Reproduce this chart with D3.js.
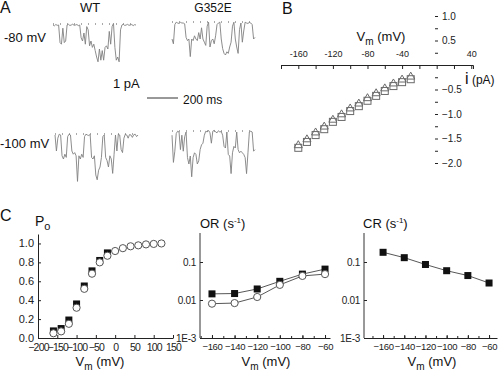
<!doctype html>
<html>
  <head>
    <meta charset="utf-8"/>
    <title>Single channel figure</title>
    <style>
      body, html {
        margin: 0;
        padding: 0;
        background: #fff;
      }
      svg {
        font-family: "Liberation Sans", Arial, sans-serif;
        display: block;
      }
      .tick line, .domain { stroke: #222; }
      .tick text { fill: #222; }
    </style>
    <script src="https://d3js.org/d3.v7.min.js"></script>
  </head>
  <body>
    <svg id="fig" width="500" height="372"></svg>
    <script>
      // ---- panel A: single channel traces (pA, evenly sampled) ----
      var traceWT80 = [0,-0.05,0.03,-0.02,0,-1.1,-1.2,-0.2,-1.1,-1.0,
        0,0.04,-0.03,0,0.05,-0.02,0,0.03,-0.04,0,
        -0.8,-1.0,-0.5,-1.2,-0.1,-0.3,-1.3,-1.0,-1.4,-1.2,
        -1.6,-2.0,-2.3,-1.5,-2.2,-1.6,-2.2,-1.4,-1.3,-1.5,
        -0.4,-1.2,-0.1,0.1,-1.4,-2.2,-2.0,-2.3,-0.3,0,
        0.05,-0.03,0,0.04,-0.02,0,0.03,-0.04,0.02,0];
      var traceG80 = [-1.0,-1.3,-0.1,0.05,0,-0.03,0.04,0,0,-0.05,
        -0.9,-1.1,-1.0,-2.1,-1.0,-1.1,-0.8,-1.0,-1.1,-0.6,
        -1.0,-0.3,-1.0,-1.2,-1.4,-0.2,0.05,-1.5,-1.1,-1.0,
        -1.3,-0.8,-0.1,0,0.05,-1.0,-1.6,-1.9,-2.0,-1.8,
        -1.9,-1.5,-1.2,-0.2,0.05,-1.0,-1.5,-1.9,-0.4,0,
        -1.2,-0.5,0.05,0,-0.03,0.04,0,-0.1,-1.0,-0.9];
      var traceWT100 = [0,-1.0,-0.2,0.05,0,-1.3,-1.5,-1.2,-1.4,-0.1,
        0.05,0,-1.0,-1.2,-1.1,-1.3,-2.9,-1.3,-1.5,-1.2,
        -1.4,-0.1,0.05,0,-0.03,0.03,-1.4,-1.5,-1.3,-2.5,
        -2.8,-2.2,-2.0,-1.4,-0.1,0,-1.4,-1.6,-2.0,-1.3,
        -1.5,-2.4,-1.2,0,-1.0,0.05,0,-0.9,-1.1,-0.2,
        0.05,0,-0.2,0.03,0,-0.15,0.02,0.05,-0.1,0];
      var traceG100 = [-0.2,-1.9,-1.2,-0.1,0.05,0,-1.1,-0.2,-1.2,-0.3,
        0,-1.6,-2.0,-1.5,-2.8,-1.6,-1.3,-1.4,-2.0,-1.8,
        -1.1,-0.8,-0.7,-0.2,0.05,0,0.1,-0.05,-0.7,0.05,
        0.1,0,-0.05,0.08,0,0.03,-0.2,-0.9,-1.0,0,
        -1.4,-1.5,-2.6,-1.3,-0.9,-1.0,0,-1.1,-1.3,-1.2,
        -1.3,-1.4,-1.6,-2.6,-1.3,0,0.05,0,-1.2,-1.1];

      // ---- panel B: unitary current-voltage ----
      var ivVoltage = [-160,-150,-140,-130,-120,-110,-100,-90,-80,-70,-60,-50,-40,-30];
      var ivWT = [-1.69,-1.57,-1.43,-1.31,-1.16,-1.06,-0.94,-0.84,-0.73,-0.63,-0.53,-0.43,-0.35,-0.29];
      var ivG352E = [-1.64,-1.52,-1.38,-1.26,-1.12,-1.01,-0.89,-0.79,-0.68,-0.58,-0.48,-0.38,-0.30,-0.24];
      var ivXTicks = [-160,-120,-80,-40,40];
      var ivYTicks = [1.0,0.5,-0.5,-1.0,-1.5,-2.0];

      // ---- panel C: Po, opening and closing rates ----
      var poVoltageWT = [-160,-140,-120,-100,-80,-60,-40,-20];
      var poWT = [0.075,0.10,0.19,0.36,0.55,0.71,0.82,0.90];
      var poVoltageG = [-160,-140,-120,-100,-80,-60,-40,-20,0,20,40,60,80,100,120];
      var poG352E = [0.05,0.07,0.15,0.32,0.52,0.68,0.80,0.87,0.92,0.95,0.97,0.98,0.99,0.995,1.0];
      var poXTicks = [-200,-150,-100,-50,0,50,100,150];
      var poYTicks = [0,0.2,0.4,0.6,0.8,1.0];

      var rateVoltage = [-160,-140,-120,-100,-80,-60];
      var orWT = [0.0145,0.0148,0.0195,0.031,0.048,0.065];
      var orG352E = [0.008,0.0083,0.012,0.025,0.043,0.048];
      var crWT = [0.18,0.13,0.086,0.059,0.044,0.028];
      var logTicks = [0.001,0.01,0.1];

      var svg = d3.select("#fig");
      var grey = "#6a6a6a";

      function label(x, y, txt, size, anchor) {
        return svg.append("text")
          .attr("x", x).attr("y", y)
          .attr("font-size", size)
          .attr("text-anchor", anchor || "start")
          .attr("fill", "#111")
          .text(txt);
      }

      function vmLabel(cx, y) {
        var t = svg.append("text").attr("x", cx).attr("y", y)
          .attr("font-size", 13).attr("text-anchor", "middle").attr("fill", "#111");
        t.append("tspan").text("V");
        t.append("tspan").attr("font-size", 10).attr("dy", 4).text("m");
        t.append("tspan").attr("dy", -4).text(" (mV)");
        return t;
      }

      // panel letters
      label(0, 13, "A", 16);
      label(282, 14, "B", 16);
      label(0, 221, "C", 16);

      // ---- A ----
      label(90, 12, "WT", 13, "middle");
      label(213, 12, "G352E", 12, "middle");
      label(4, 42, "-80 mV", 13);
      label(0, 148, "-100 mV", 13);

      var traces = [
        {data: traceWT80, x0: 53, x1: 136, base: 25},
        {data: traceG80, x0: 172, x1: 255, base: 23},
        {data: traceWT100, x0: 55, x1: 138, base: 135},
        {data: traceG100, x0: 172, x1: 255, base: 132}
      ];

      traces.forEach(function(t) {
        var x = d3.scaleLinear().domain([0, t.data.length - 1]).range([t.x0, t.x1]);
        var y = d3.scaleLinear().domain([0, -3]).range([t.base, t.base + 48]);
        // dotted closed level
        svg.append("line")
          .attr("x1", t.x0).attr("x2", t.x1)
          .attr("y1", t.base - 1).attr("y2", t.base - 1)
          .attr("stroke", "#555").attr("stroke-width", 1)
          .attr("stroke-dasharray", "1,6");
        svg.append("path")
          .datum(t.data)
          .attr("fill", "none")
          .attr("stroke", "#808080")
          .attr("stroke-width", 0.9)
          .attr("d", d3.line()
            .x(function(d, i) { return x(i); })
            .y(function(d) { return y(d); }));
      });

      // scale bar
      label(113, 88, "1 pA", 13);
      svg.append("line").attr("x1", 147).attr("x2", 178).attr("y1", 98).attr("y2", 98)
        .attr("stroke", "#333").attr("stroke-width", 1);
      label(183, 104, "200 ms", 12);

      // ---- B ----
      var xB = d3.scaleLinear().domain([-180, 42]).range([281, 473]);
      var yB = d3.scaleLinear().domain([-2, 1]).range([163, 16]);

      var gxB = svg.append("g").attr("transform", "translate(0," + yB(0) + ")")
        .call(d3.axisBottom(xB).tickValues(d3.range(-180, 41, 20)).tickSize(4)
          .tickFormat(function(d) { return ivXTicks.indexOf(d) >= 0 ? d : ""; }));
      gxB.selectAll("text").attr("y", -14).attr("font-size", 9).attr("fill", "#333");
      gxB.select(".domain").attr("stroke", "#333");

      var gyB = svg.append("g").attr("transform", "translate(435,0)")
        .call(d3.axisRight(yB).tickValues(d3.range(-2, 1.01, 0.25)).tickSize(3).tickPadding(4)
          .tickFormat(function(d) {
            var hit = ivYTicks.filter(function(v) { return Math.abs(v - d) < 1e-6; });
            return hit.length ? d3.format(".1f")(d) : "";
          }));
      gyB.select(".domain").remove();
      gyB.selectAll("text").attr("font-size", 10).attr("fill", "#333");
      gyB.selectAll("line").attr("stroke", "#555");

      vmLabel(381, 41);
      var il = svg.append("text").attr("x", 465).attr("y", 84).attr("fill", "#111");
      il.append("tspan").attr("font-size", 16).text("i");
      il.append("tspan").attr("font-size", 12).text(" (pA)");

      svg.append("g").selectAll("rect").data(ivWT).enter().append("rect")
        .attr("x", function(d, i) { return xB(ivVoltage[i]) - 3.5; })
        .attr("y", function(d) { return yB(d) - 3.5; })
        .attr("width", 7).attr("height", 7)
        .attr("fill", "none").attr("stroke", grey).attr("stroke-width", 1);
      svg.append("g").selectAll("path").data(ivG352E).enter().append("path")
        .attr("transform", function(d, i) { return "translate(" + xB(ivVoltage[i]) + "," + yB(d) + ")"; })
        .attr("d", d3.symbol().type(d3.symbolTriangle).size(28))
        .attr("fill", "none").attr("stroke", grey).attr("stroke-width", 1);

      // ---- C helpers ----
      function squares(x, y, xs, ys) {
        svg.append("g").selectAll("rect").data(ys).enter().append("rect")
          .attr("x", function(d, i) { return x(xs[i]) - 3.5; })
          .attr("y", function(d) { return y(d) - 3.5; })
          .attr("width", 7).attr("height", 7).attr("fill", "#111");
      }
      function circles(x, y, xs, ys) {
        svg.append("g").selectAll("circle").data(ys).enter().append("circle")
          .attr("cx", function(d, i) { return x(xs[i]); })
          .attr("cy", function(d) { return y(d); })
          .attr("r", 3.6).attr("fill", "#fff").attr("stroke", "#555").attr("stroke-width", 1);
      }
      function connect(x, y, xs, ys) {
        svg.append("path").datum(ys)
          .attr("fill", "none").attr("stroke", "#444").attr("stroke-width", 0.9)
          .attr("d", d3.line().x(function(d, i) { return x(xs[i]); }).y(function(d) { return y(d); }));
      }
      function styleAxis(g, size) {
        g.selectAll("text").attr("font-size", size || 10).attr("fill", "#222");
        g.select(".domain").attr("stroke", "#333");
        g.selectAll("line").attr("stroke", "#333");
      }
      function rateAxes(x, y, x0, xTop) {
        var gx = svg.append("g").attr("transform", "translate(0,338)")
          .call(d3.axisBottom(x).tickValues(rateVoltage).tickSize(-3).tickPadding(5).tickSizeOuter(0));
        styleAxis(gx, 9.5);
        gx.selectAll("text").attr("letter-spacing", -0.3);
        var gm = svg.append("g").attr("transform", "translate(0,338)")
          .call(d3.axisBottom(x).tickValues(d3.range(-170, -50, 10)).tickSize(-2).tickFormat(""));
        gm.select(".domain").remove();
        gm.selectAll("line").attr("stroke", "#555");
        var gy = svg.append("g").attr("transform", "translate(" + x0 + ",0)")
          .call(d3.axisLeft(y).tickValues(logTicks).tickSize(-3).tickPadding(4)
            .tickFormat(function(d) { return d === 0.001 ? "1E-3" : d; }));
        gy.select(".domain").remove();
        styleAxis(gy, 10);
        gy.selectAll("text").attr("letter-spacing", -0.3);
        svg.append("line").attr("x1", x0).attr("x2", x0).attr("y1", 338).attr("y2", xTop)
          .attr("stroke", "#333");
      }

      // ---- C: Po ----
      var xP = d3.scaleLinear().domain([-200, 150]).range([38, 173]);
      var yP = d3.scaleLinear().domain([0, 1.1]).range([338, 234]);
      var gxP = svg.append("g").attr("transform", "translate(0,338)")
        .call(d3.axisBottom(xP).tickValues(poXTicks).tickSize(-3).tickPadding(6).tickSizeOuter(0));
      styleAxis(gxP, 10.5);
      gxP.selectAll("text").attr("letter-spacing", -0.8);
      var gyP = svg.append("g").attr("transform", "translate(38,0)")
        .call(d3.axisLeft(yP).tickValues(poYTicks).tickSize(-3).tickPadding(4).tickSizeOuter(0)
          .tickFormat(d3.format(".1f")));
      styleAxis(gyP, 11);
      gyP.selectAll("text").attr("dy", "0.28em");

      var po = svg.append("text").attr("x", 35).attr("y", 226).attr("fill", "#111").attr("font-size", 14);
      po.append("tspan").text("P");
      po.append("tspan").attr("font-size", 11).attr("dy", 4).text("o");

      squares(xP, yP, poVoltageWT, poWT);
      circles(xP, yP, poVoltageG, poG352E);
      vmLabel(100, 366);

      // ---- C: opening rate ----
      var xO = d3.scaleLinear().domain([-170.6, -55.6]).range([200, 330]);
      var yO = d3.scaleLog().domain([0.001, 1]).range([338, 224]);
      rateAxes(xO, yO, 200, 233);
      connect(xO, yO, rateVoltage, orWT);
      connect(xO, yO, rateVoltage, orG352E);
      squares(xO, yO, rateVoltage, orWT);
      circles(xO, yO, rateVoltage, orG352E);
      var orl = svg.append("text").attr("x", 200).attr("y", 228).attr("fill", "#111").attr("font-size", 13);
      orl.append("tspan").text("OR (s");
      orl.append("tspan").attr("font-size", 8).attr("dy", -5).text("-1");
      orl.append("tspan").attr("dy", 5).text(")");
      vmLabel(266, 366);

      // ---- C: closing rate ----
      var xC = d3.scaleLinear().domain([-178, -52.5]).range([364, 497]);
      var yC = d3.scaleLog().domain([0.001, 1]).range([338, 224]);
      rateAxes(xC, yC, 364, 233);
      connect(xC, yC, rateVoltage, crWT);
      squares(xC, yC, rateVoltage, crWT);
      var crl = svg.append("text").attr("x", 363).attr("y", 228).attr("fill", "#111").attr("font-size", 13);
      crl.append("tspan").text("CR (s");
      crl.append("tspan").attr("font-size", 8).attr("dy", -5).text("-1");
      crl.append("tspan").attr("dy", 5).text(")");
      vmLabel(432, 366);
    </script>
  </body>
</html>
